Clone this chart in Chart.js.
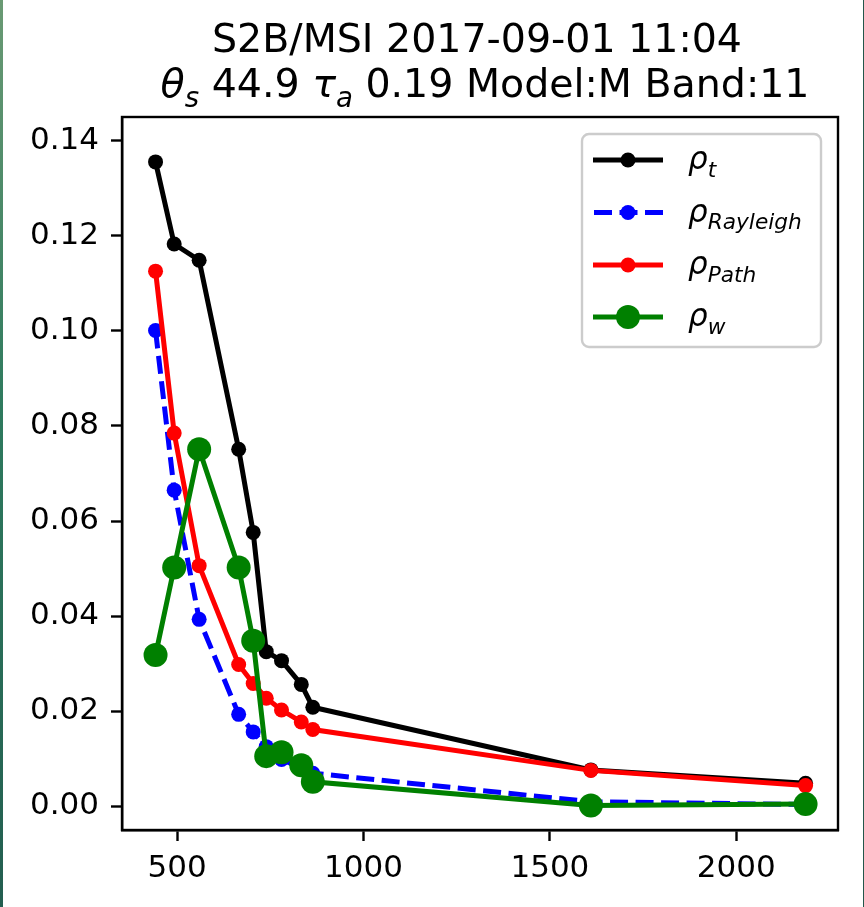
<!DOCTYPE html>
<html>
<head>
<meta charset="utf-8">
<script src="https://cdn.jsdelivr.net/npm/chart.js@4/dist/chart.umd.min.js"></script>
<style>
  html, body { margin: 0; padding: 0; background: #ffffff; }
  #wrap { position: relative; width: 864px; height: 907px; }
  #edgeL { position: absolute; left: 0; top: 0; width: 3px; height: 907px;
           background: linear-gradient(#6a9a74, #2e7a5e 45%, #235e50); }
  #edgeR { position: absolute; right: 0; top: 0; width: 1px; height: 907px; background: #24564a; }
</style>
</head>
<body>
<div id="wrap">
  <canvas id="c" width="864" height="907"></canvas>
  <div id="edgeL"></div>
  <div id="edgeR"></div>
</div>
<script>
// ---- data ----
const wavelengths = [442, 492, 559, 665, 704, 739, 780, 833, 864, 1610, 2186];
const rhoT        = [0.1356, 0.1183, 0.1149, 0.0751, 0.0576, 0.0325, 0.0306, 0.0256, 0.0208, 0.0076, 0.0048];
const rhoRayleigh = [0.1001, 0.0665, 0.0393, 0.0193, 0.0156, 0.0125, 0.0098, 0.0080, 0.0069, 0.0009, 0.0003];
const rhoPath     = [0.1126, 0.0785, 0.0506, 0.0298, 0.0258, 0.0227, 0.0202, 0.0177, 0.0161, 0.0075, 0.0043];
const rhoW        = [0.0318, 0.0502, 0.0751, 0.0502, 0.0348, 0.0105, 0.0113, 0.0086, 0.0051, 0.0001, 0.0004];
const xTicks = [500, 1000, 1500, 2000];
const yTicks = [0.00, 0.02, 0.04, 0.06, 0.08, 0.10, 0.12, 0.14];
const titleLine1 = "S2B/MSI 2017-09-01 11:04";
const titleLine2 = [
  {t: "θ", it: true}, {t: "s", it: true, sub: true}, {t: " 44.9 "},
  {t: "τ", it: true}, {t: "a", it: true, sub: true}, {t: " 0.19 Model:M Band:11"}
];
const legendSubs = ["t", "Rayleigh", "Path", "w"];

const FONT = '"DejaVu Sans"';
const toXY = (arr) => wavelengths.map((w, i) => ({x: w, y: arr[i]}));

function drawRich(ctx, parts, cx, baseline, size, align) {
  const subSize = size * 0.7;
  const fontOf = p => (p.it ? 'oblique ' : '') + (p.sub ? subSize : size) + 'px ' + FONT;
  let total = 0;
  parts.forEach(p => { ctx.font = fontOf(p); p.w = ctx.measureText(p.t).width; total += p.w; });
  let x = align === 'left' ? cx : cx - total / 2;
  ctx.textAlign = 'left';
  ctx.textBaseline = 'alphabetic';
  parts.forEach(p => {
    ctx.font = fontOf(p);
    ctx.fillText(p.t, x, baseline + (p.sub ? size * 0.25 : 0));
    x += p.w;
  });
}

const decor = {
  id: 'decor',
  afterDraw(chart) {
    const ctx = chart.ctx;
    const a = chart.chartArea;
    ctx.save();
    // axes box
    ctx.strokeStyle = '#000';
    ctx.lineWidth = 2.4;
    ctx.strokeRect(a.left, a.top, a.right - a.left, a.bottom - a.top);
    // title
    ctx.fillStyle = '#000';
    const cx = (a.left + a.right) / 2;
    ctx.font = '39.5px ' + FONT;
    ctx.textAlign = 'center';
    ctx.textBaseline = 'alphabetic';
    ctx.fillText(titleLine1, cx - 3, 52);
    drawRich(ctx, titleLine2, cx + 5, 97, 39.5, 'center');
    // legend box
    const lx = 582, ly = 134, lw = 239, lh = 213, r = 7;
    ctx.beginPath();
    ctx.roundRect(lx, ly, lw, lh, r);
    ctx.fillStyle = 'rgba(255,255,255,0.8)';
    ctx.fill();
    ctx.strokeStyle = '#cccccc';
    ctx.lineWidth = 2.4;
    ctx.stroke();
    // legend entries
    const rows = [160, 212.5, 265, 317];
    chart.data.datasets.forEach((ds, i) => {
      const y = rows[i];
      ctx.save();
      ctx.strokeStyle = ds.borderColor;
      ctx.lineWidth = ds.borderWidth;
      ctx.setLineDash(ds.borderDash || []);
      if (ds.borderDash) ctx.lineDashOffset = -1;
      ctx.beginPath();
      ctx.moveTo(593, y);
      ctx.lineTo(663, y);
      ctx.stroke();
      ctx.restore();
      ctx.beginPath();
      ctx.arc(628, y, ds.pointRadius, 0, Math.PI * 2);
      ctx.fillStyle = ds.pointBackgroundColor;
      ctx.fill();
      ctx.fillStyle = '#000';
      drawRich(ctx, [{t: 'ρ', it: true}, {t: legendSubs[i], it: true, sub: true}], 688, y + 9, 31, 'left');
    });
    ctx.restore();
  }
};

const tickFont = {family: FONT, size: 31};

new Chart(document.getElementById('c'), {
  type: 'line',
  data: {
    datasets: [
      {label: 'rho_t', data: toXY(rhoT), borderColor: '#000000', backgroundColor: '#000000',
       pointBackgroundColor: '#000000', borderWidth: 5, pointRadius: 7.5, pointBorderWidth: 0, order: 4},
      {label: 'rho_Rayleigh', data: toXY(rhoRayleigh), borderColor: '#0000ff', backgroundColor: '#0000ff',
       pointBackgroundColor: '#0000ff', borderWidth: 5, borderDash: [18, 7.5], pointRadius: 7.5, pointBorderWidth: 0, order: 3},
      {label: 'rho_Path', data: toXY(rhoPath), borderColor: '#ff0000', backgroundColor: '#ff0000',
       pointBackgroundColor: '#ff0000', borderWidth: 5, pointRadius: 7.5, pointBorderWidth: 0, order: 2},
      {label: 'rho_w', data: toXY(rhoW), borderColor: '#008000', backgroundColor: '#008000',
       pointBackgroundColor: '#008000', borderWidth: 5, pointRadius: 12, pointBorderWidth: 0, order: 1}
    ]
  },
  options: {
    responsive: false,
    animation: false,
    devicePixelRatio: 1,
    layout: {padding: {left: 0, top: 117, right: 26, bottom: 0}},
    plugins: {legend: {display: false}, title: {display: false}, tooltip: {enabled: false}},
    elements: {line: {tension: 0, fill: false}},
    scales: {
      x: {
        type: 'linear', min: 352, max: 2273,
        afterBuildTicks: s => { s.ticks = xTicks.map(v => ({value: v})); },
        afterFit: s => { s.height = 77; },
        grid: {drawOnChartArea: false, drawTicks: true, tickLength: 11, tickWidth: 2.4, tickColor: '#000'},
        border: {display: true, color: '#000', width: 2.4},
        ticks: {color: '#000', font: tickFont, padding: 9, maxRotation: 0, callback: v => String(v)}
      },
      y: {
        type: 'linear', min: -0.00505, max: 0.14505,
        afterBuildTicks: s => { s.ticks = yTicks.map(v => ({value: v})); },
        afterFit: s => { s.width = 122; },
        grid: {drawOnChartArea: false, drawTicks: true, tickLength: 11, tickWidth: 2.4, tickColor: '#000'},
        border: {display: true, color: '#000', width: 2.4},
        ticks: {color: '#000', font: tickFont, padding: 12, callback: v => v.toFixed(2)}
      }
    }
  },
  plugins: [decor]
});
</script>
</body>
</html>
